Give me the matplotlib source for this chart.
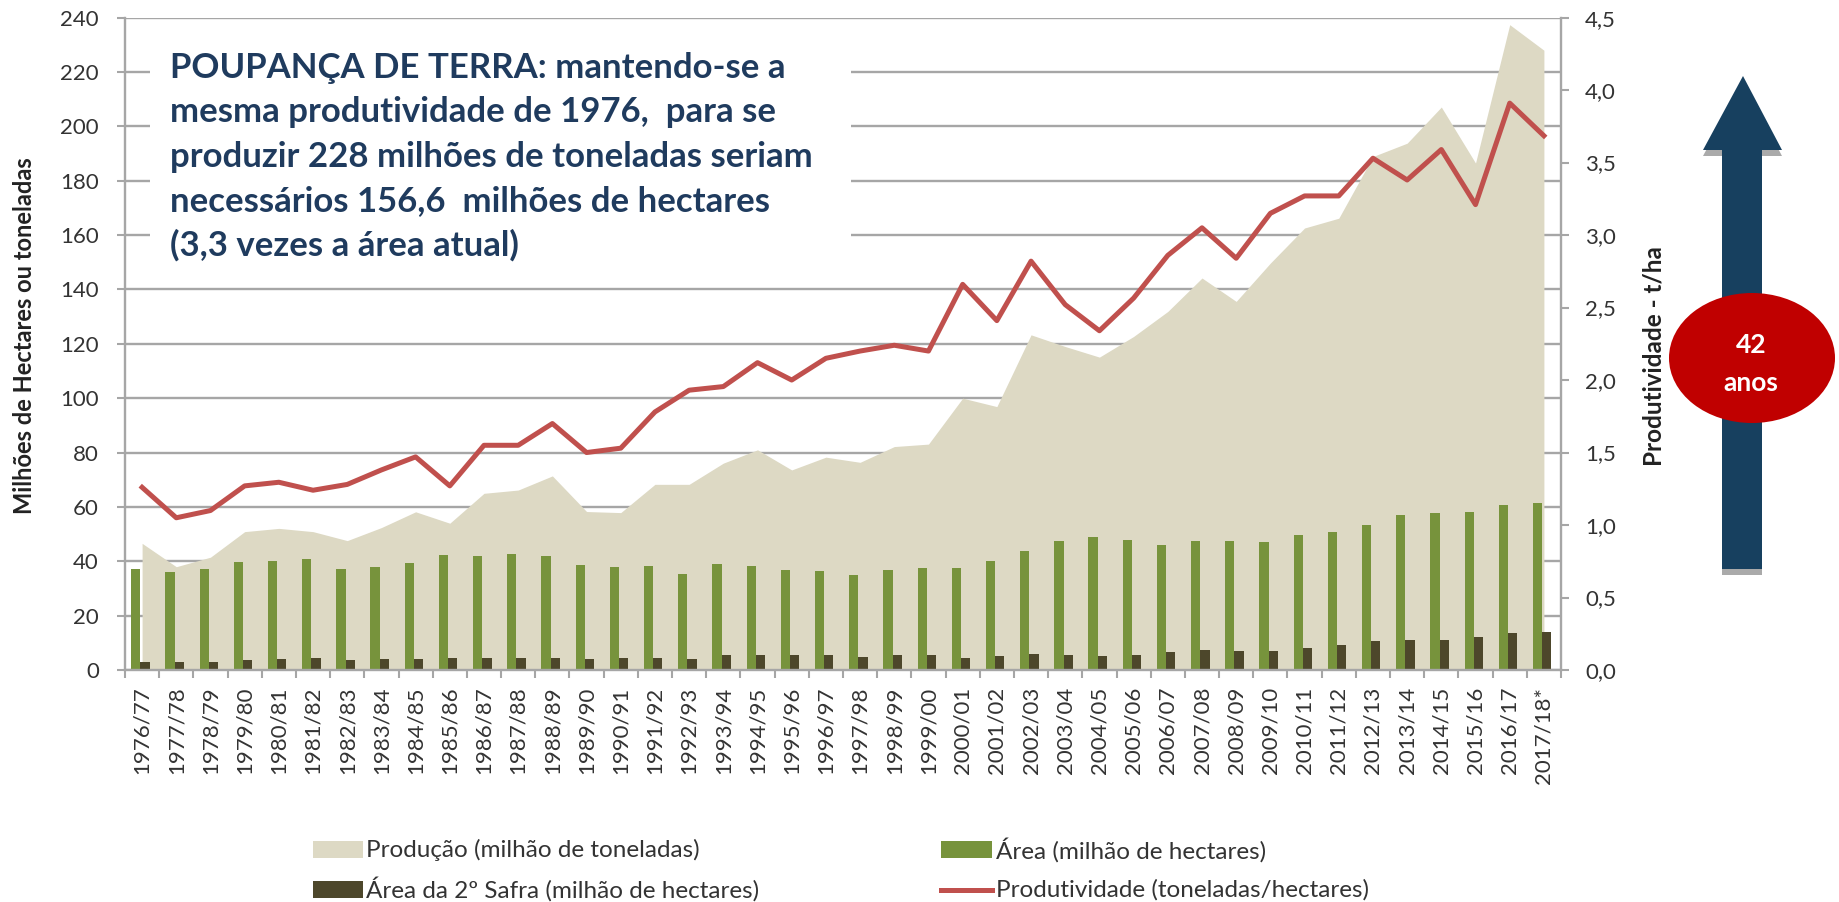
import matplotlib
matplotlib.use('Agg')
import matplotlib.pyplot as plt
from matplotlib.patches import Rectangle, Polygon, Ellipse
from matplotlib.lines import Line2D
from matplotlib.ticker import FuncFormatter, FixedLocator
import numpy as np

plt.rcParams['font.family'] = ['Lato', 'DejaVu Sans']

# ---------------- data ----------------
safras = ["1976/77", "1977/78", "1978/79", "1979/80", "1980/81", "1981/82", "1982/83",
          "1983/84", "1984/85", "1985/86", "1986/87", "1987/88", "1988/89", "1989/90",
          "1990/91", "1991/92", "1992/93", "1993/94", "1994/95", "1995/96", "1996/97",
          "1997/98", "1998/99", "1999/00", "2000/01", "2001/02", "2002/03", "2003/04",
          "2004/05", "2005/06", "2006/07", "2007/08", "2008/09", "2009/10", "2010/11",
          "2011/12", "2012/13", "2013/14", "2014/15", "2015/16", "2016/17", "2017/18*"]

producao = [46.6, 38.0, 41.5, 50.9, 52.1, 50.9, 47.6, 52.4, 58.2, 54.0, 65.0, 66.2, 71.4, 58.3,
            57.9, 68.3, 68.3, 76.1, 81.0, 73.6, 78.3, 76.4, 82.2, 83.1, 100.0, 96.9, 123.3, 119.0,
            115.1, 122.7, 131.9, 144.2, 135.6, 149.7, 162.6, 166.2, 188.9, 193.8, 207.1, 186.5,
            237.4, 228.0]

area = [37.1, 36.2, 37.3, 39.9, 40.2, 41.0, 37.1, 37.8, 39.4, 42.3, 42.0, 42.6, 42.1, 38.8,
        37.8, 38.4, 35.3, 38.9, 38.4, 36.8, 36.3, 34.8, 36.8, 37.7, 37.7, 40.1, 43.9, 47.4,
        48.9, 47.8, 46.1, 47.4, 47.6, 47.2, 49.7, 50.7, 53.4, 56.9, 57.7, 58.2, 60.7, 61.3]

area_2safra = [3.1, 3.1, 2.8, 3.7, 4.0, 4.3, 3.7, 4.0, 4.0, 4.5, 4.3, 4.5, 4.3, 3.9,
               4.4, 4.4, 3.9, 5.5, 5.5, 5.4, 5.6, 4.9, 5.7, 5.7, 4.5, 5.0, 5.8, 5.6,
               5.2, 5.6, 6.6, 7.4, 7.1, 7.0, 8.2, 9.2, 10.7, 11.0, 11.0, 12.0, 13.7, 13.8]

produtividade = [1.26, 1.05, 1.10, 1.27, 1.295, 1.24, 1.28, 1.38, 1.47, 1.27, 1.55, 1.55, 1.70,
                 1.50, 1.53, 1.78, 1.93, 1.955, 2.12, 2.00, 2.15, 2.20, 2.24, 2.20, 2.66, 2.41,
                 2.82, 2.52, 2.34, 2.565, 2.86, 3.05, 2.84, 3.15, 3.27, 3.27, 3.53, 3.38, 3.59,
                 3.21, 3.91, 3.685]

left_ticks = [0, 20, 40, 60, 80, 100, 120, 140, 160, 180, 200, 220, 240]
right_ticks = [0.0, 0.5, 1.0, 1.5, 2.0, 2.5, 3.0, 3.5, 4.0, 4.5]

legend_labels = ["Produção (milhão de toneladas)", "Área (milhão de hectares)",
                 "Área da 2º Safra (milhão de hectares)", "Produtividade (toneladas/hectares)"]

nota = ["POUPANÇA DE TERRA: mantendo-se a",
        "mesma produtividade de 1976,  para se",
        "produzir 228 milhões de toneladas seriam",
        "necessários 156,6  milhões de hectares",
        "(3,3 vezes a área atual)"]

left_label = "Milhões de Hectares ou toneladas"
right_label = "Produtividade - t/ha"
badge = ["42", "anos"]

# ---------------- styles ----------------
TAN = '#DDD9C4'
GREEN = '#77933C'
DARK = '#4D472B'
RED = '#C0504D'
GRAY = '#A6A6A6'
TXT = '#333333'
NAVY = '#1F3B5E'
ARROW = '#17405F'

W, H = 1840, 902
fig = plt.figure(figsize=(W / 100, H / 100), dpi=100)


def px(x0, y0, x1, y1):
    return [x0 / W, 1 - y1 / H, (x1 - x0) / W, (y1 - y0) / H]


ax = fig.add_axes(px(125, 17.6, 1561, 670))
x = np.arange(len(safras))

ax.fill_between(x, producao, 0, color=TAN, lw=0, zorder=1)
ax.bar(x - 0.185, area, width=0.27, color=GREEN, lw=0, zorder=2)
ax.bar(x + 0.085, area_2safra, width=0.27, color=DARK, lw=0, zorder=2)

ax.set_xlim(-0.5, len(safras) - 0.5)
ax.set_ylim(0, 240)
ax.set_yticks(left_ticks)
ax.yaxis.grid(True, color=GRAY, lw=1.7)
ax.set_axisbelow(True)
for s in ['top', 'right']:
    ax.spines[s].set_visible(False)
for s in ['left', 'bottom']:
    ax.spines[s].set_color(GRAY)
    ax.spines[s].set_linewidth(1.7)

ax.tick_params(axis='y', length=5.8, width=1.5, color=GRAY, pad=13,
               labelsize=16, labelcolor=TXT)
ax.set_xticks(x)
ax.set_xticklabels(safras, rotation=90, ha='center', va='top')
ax.tick_params(axis='x', which='major', length=0, pad=12, labelsize=16, labelcolor=TXT)
ax.xaxis.set_minor_locator(FixedLocator(np.arange(-0.5, len(safras), 1.0)))
ax.tick_params(axis='x', which='minor', length=5.8, width=1.5, color=GRAY)

ax2 = ax.twinx()
ax2.plot(x, produtividade, color=RED, lw=3.6, solid_joinstyle='round', zorder=5)
ax2.set_ylim(0, 4.5)
ax2.set_yticks(right_ticks)
ax2.yaxis.set_major_formatter(FuncFormatter(lambda v, p: f"{v:.1f}".replace('.', ',')))
for s in ['top', 'left', 'bottom']:
    ax2.spines[s].set_visible(False)
ax2.spines['right'].set_color(GRAY)
ax2.spines['right'].set_linewidth(1.7)
ax2.tick_params(axis='y', length=5.8, width=1.5, color=GRAY, pad=11.5,
                labelsize=16, labelcolor=TXT)

# ---------------- overlay (annotations, legend) ----------------
ov = fig.add_axes([0, 0, 1, 1])
ov.set_xlim(0, W)
ov.set_ylim(H, 0)
ov.axis('off')
ov.set_zorder(10)

# note box
ov.add_patch(Rectangle((150, 38), 701, 232, fc='white', ec='none'))
for i, line in enumerate(nota):
    ov.text(170, 78 + i * 44.3, line, fontsize=25, fontweight='bold', color=NAVY,
            ha='left', va='baseline')

# axis titles
ov.text(24.5, 336, left_label, rotation=90, ha='center', va='center',
        fontsize=17, fontweight='bold', color='#222222')
ov.text(1654, 356, right_label, rotation=90, ha='center', va='center',
        fontsize=17.5, fontweight='bold', color='#222222')

# arrow with shadow
arrow_pts = np.array([(1722, 569), (1722, 150), (1703, 150), (1743, 76),
                      (1782, 150), (1762, 150), (1762, 569)], dtype=float)
shadow = arrow_pts.copy()
shadow[:, 1] += 6
ov.add_patch(Polygon(shadow, closed=True, fc='#AAAAAA', ec='none'))
ov.add_patch(Polygon(arrow_pts, closed=True, fc=ARROW, ec='none'))

# badge
ov.add_patch(Ellipse((1752, 358), 166, 130, fc='#C00000', ec='none'))
ov.text(1751, 353, badge[0], fontsize=19, fontweight='bold', color='white',
        ha='center', va='baseline')
ov.text(1751, 391, badge[1], fontsize=19, fontweight='bold', color='white',
        ha='center', va='baseline')

# legend
ov.add_patch(Rectangle((313, 841), 50, 17, fc=TAN, ec='none'))
ov.add_patch(Rectangle((941, 841), 51, 17, fc=GREEN, ec='none'))
ov.add_patch(Rectangle((313, 881), 50, 17, fc=DARK, ec='none'))
ov.add_line(Line2D([941, 992], [889.5, 889.5], color=RED, lw=3.6))
legend_pos = [(366, 850), (996, 850), (366, 889.5), (996, 889.5)]
for (lx, ly), lab in zip(legend_pos, legend_labels):
    ov.text(lx, ly, lab, fontsize=17.5, color=TXT, ha='left', va='center')

fig.savefig('out.png', dpi=100)
